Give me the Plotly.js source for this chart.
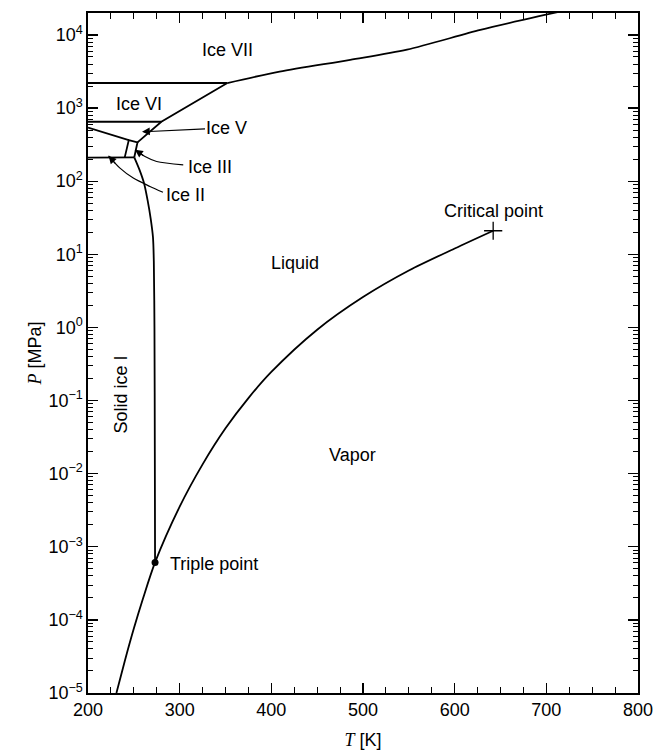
<!DOCTYPE html>
<html>
<head>
<meta charset="utf-8">
<script src="https://cdn.plot.ly/plotly-3.0.1.min.js"></script>
<style>html,body{margin:0;padding:0;background:#fff;}#chart{width:659px;height:754px;}</style>
</head>
<body>
<div id="chart"></div>
<script>
// Liquid-vapour / sublimation curve (T in K, P in MPa)
const vapT = [231, 240, 250, 260, 273.16, 300, 325, 350, 375, 400, 450, 500, 550, 600, 642];
const vapP = [1e-5, 2.7e-5, 7.6e-5, 1.96e-4, 6.11e-4, 3.54e-3, 1.34e-2, 4.17e-2, 0.108, 0.246, 0.93, 2.6, 6.0, 12.0, 21];
// Ice I melting curve
const meltIT = [273.16, 272.9, 272.5, 271.8, 270.9, 268.5, 265, 261, 256, 250.5];
const meltIP = [6.11e-4, 0.02, 1, 8, 17, 30, 55, 95, 145, 212];
// Ice I / II / III boundary
const iceI_II_T = [200, 250.5];
const iceI_II_P = [210, 212];
// Ice III region outline
const iceIII_T = [240, 244.5, 254, 250.5];
const iceIII_P = [210, 365, 340, 212];
// Ice II / V boundary
const iceII_V_T = [200, 244.5];
const iceII_V_P = [540, 365];
// Ice V / VI boundary
const iceV_VI_T = [200, 280];
const iceV_VI_P = [650, 650];
// Ice V and VI melting curve
const meltVI_T = [254, 280, 352];
const meltVI_P = [340, 650, 2200];
// Ice VI / VII boundary
const iceVI_VII_T = [200, 352];
const iceVI_VII_P = [2200, 2200];
// Ice VII melting curve
const meltVII_T = [352, 409, 486, 548, 628, 697, 730];
const meltVII_P = [2200, 3150, 4570, 6300, 11700, 18600, 23000];
// Special points
const tripleT = [273.16], tripleP = [6.11e-4];
const critT = [642], critP = [21];
// Region / point labels
const labelText = ['Ice VII', 'Ice VI', 'Liquid', 'Vapor', 'Critical point', 'Triple point', 'Solid ice I'];
const labelT = [352.7, 255.6, 426, 489, 642.7, 287.2, 236];
const labelP = [6240, 1140, 7.5, 0.018, 39.5, 5.75e-4, 0.121];
const labelAnchor = ['center', 'center', 'center', 'center', 'center', 'left', 'center'];
const labelAngle = [0, 0, 0, 0, 0, 0, -90];
// Arrowed labels: Ice V (straight), Ice III and Ice II (curved leaders)
const iceV_headT = 258.9, iceV_headP = 473;
const iceIII_leadT = [303.9, 274.9, 262.2, 251.3];
const iceIII_leadP = [167.5, 185.8, 217.3, 268.5];
const iceIII_labT = 333, iceIII_labP = 157;
const iceII_leadT = [281.8, 267.6, 249.4, 234.9, 222.4];
const iceII_leadP = [70.5, 84.7, 110.2, 151, 222.3];
const iceII_labT = 306.9, iceII_labP = 65.2;
// Axis ticks
const xTicks = [200, 300, 400, 500, 600, 700, 800];
const yTickExp = [-5, -4, -3, -2, -1, 0, 1, 2, 3, 4];

const black = '#000';
function line(x, y, shape, w) {
  return {x: x, y: y, type: 'scatter', mode: 'lines', hoverinfo: 'skip',
    line: {color: black, width: w || 1.8, shape: shape || 'linear', smoothing: 0.8}, showlegend: false};
}
const traces = [
  line(vapT, vapP, 'spline'),
  line(meltIT, meltIP, 'spline'),
  line(iceI_II_T, iceI_II_P),
  line(iceIII_T, iceIII_P),
  line(iceII_V_T, iceII_V_P),
  line(iceV_VI_T, iceV_VI_P),
  line(meltVI_T, meltVI_P),
  line(iceVI_VII_T, iceVI_VII_P),
  line(meltVII_T, meltVII_P, 'spline'),
  line(iceIII_leadT, iceIII_leadP, 'spline', 1.2),
  line(iceII_leadT, iceII_leadP, 'spline', 1.2),
  {x: tripleT, y: tripleP, type: 'scatter', mode: 'markers', hoverinfo: 'skip', showlegend: false,
    marker: {color: black, size: 7, symbol: 'circle'}},
  {x: critT, y: critP, type: 'scatter', mode: 'markers', hoverinfo: 'skip', showlegend: false,
    marker: {color: black, size: 13, symbol: 'cross-thin-open', line: {color: black, width: 1.3}}}
];

const font = {family: 'Liberation Sans, Arial, sans-serif', size: 18, color: black};
const annotations = labelText.map((t, i) => ({
  x: labelT[i], y: Math.log10(labelP[i]), xref: 'x', yref: 'y', text: t, showarrow: false,
  xanchor: labelAnchor[i], yanchor: 'middle', textangle: labelAngle[i], font: font
}));
// Ice V straight arrow
annotations.push({x: iceV_headT, y: Math.log10(iceV_headP), xref: 'x', yref: 'y', text: 'Ice V',
  showarrow: true, ax: 85, ay: -4, arrowhead: 2, arrowsize: 1.3, arrowwidth: 1.2, arrowcolor: black,
  standoff: 0, startstandoff: 0, font: font});
// Curved leader labels
annotations.push({x: iceIII_labT, y: Math.log10(iceIII_labP), xref: 'x', yref: 'y', text: 'Ice III',
  showarrow: false, xanchor: 'center', yanchor: 'middle', font: font});
annotations.push({x: iceII_labT, y: Math.log10(iceII_labP), xref: 'x', yref: 'y', text: 'Ice II',
  showarrow: false, xanchor: 'center', yanchor: 'middle', font: font});
// arrowheads for curved leaders
annotations.push({x: iceIII_leadT[3], y: Math.log10(iceIII_leadP[3]), xref: 'x', yref: 'y', text: '',
  showarrow: true, ax: 10, ay: 7, arrowhead: 2, arrowsize: 1.3, arrowwidth: 1.2, arrowcolor: black, standoff: 0});
annotations.push({x: iceII_leadT[4], y: Math.log10(iceII_leadP[4]), xref: 'x', yref: 'y', text: '',
  showarrow: true, ax: 8, ay: 9, arrowhead: 2, arrowsize: 1.3, arrowwidth: 1.2, arrowcolor: black, standoff: 0});

const layout = {
  width: 659, height: 754,
  margin: {l: 88, r: 21, t: 13, b: 61},
  paper_bgcolor: '#fff', plot_bgcolor: '#fff',
  font: font,
  xaxis: {
    range: [200, 800], tickvals: xTicks, ticktext: xTicks.map(String),
    ticks: 'inside', ticklen: 10, tickwidth: 1.3, tickcolor: black,
    minor: {ticks: 'inside', dtick: 25, ticklen: 6, tickwidth: 1.1, tickcolor: black, showgrid: false},
    showline: true, linecolor: black, linewidth: 1.6, mirror: 'ticks',
    showgrid: false, zeroline: false, tickfont: font,
    title: {text: '<span style="font-family:Liberation Serif;font-style:italic">T</span> [K]', font: font, standoff: 14}
  },
  yaxis: {
    type: 'log', range: [-5, 4.30],
    tickvals: yTickExp.map(e => Math.pow(10, e)),
    ticktext: yTickExp.map(e => '10<sup>' + (e < 0 ? '\u2212' + (-e) : e) + '</sup>'),
    ticks: 'inside', ticklen: 10, tickwidth: 1.3, tickcolor: black,
    minor: {ticks: 'inside', dtick: 'D1', ticklen: 5, tickwidth: 1, tickcolor: black, showgrid: false},
    showline: true, linecolor: black, linewidth: 1.6, mirror: 'ticks',
    showgrid: false, zeroline: false, tickfont: font,
    title: {text: '<span style="font-family:Liberation Serif;font-style:italic">P</span> [MPa]', font: font, standoff: 2}
  },
  annotations: annotations
};
Plotly.newPlot('chart', traces, layout, {staticPlot: true});
</script>
</body>
</html>
